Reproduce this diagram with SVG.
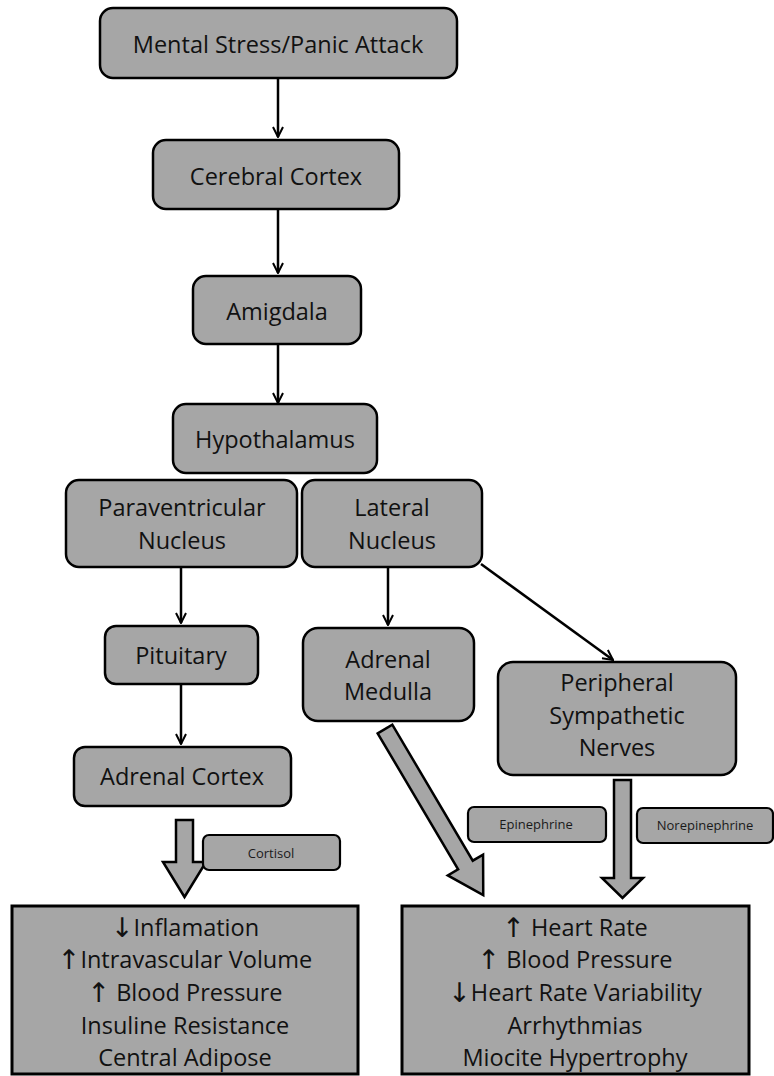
<svg xmlns="http://www.w3.org/2000/svg" width="774" height="1076" viewBox="0 0 774 1076">
  <style>
    .node { fill: #a6a6a6; stroke: #000; stroke-width: 2.5; }
    .tag { fill: #a6a6a6; stroke: #000; stroke-width: 2.2; }
    .out { fill: #a6a6a6; stroke: #000; stroke-width: 3; }
    .lbl { font-family: "Open Sans", "Liberation Sans", sans-serif; font-size: 23.5px; fill: #111; text-anchor: middle; dominant-baseline: central; }
    .small { font-family: "Open Sans", "Liberation Sans", sans-serif; font-size: 13px; fill: #1a1a1a; text-anchor: middle; dominant-baseline: central; }
    .arw { font-family: "DejaVu Sans", sans-serif; font-size: 27px; fill: #111; }
    .line { stroke: #000; stroke-width: 2.5; fill: none; }
    .block { fill: #a6a6a6; stroke: #000; stroke-width: 2.5; stroke-linejoin: miter; }
  </style>
  <defs>
    <marker id="head" viewBox="0 0 12 12" refX="11" refY="6" markerWidth="12" markerHeight="12" markerUnits="userSpaceOnUse" orient="auto">
      <path d="M1,1 L11,6 L1,11" fill="none" stroke="#000" stroke-width="2"/>
    </marker>
  </defs>

  <g id="connectors">
    <line class="line" x1="278" y1="78" x2="278" y2="137" marker-end="url(#head)"/>
    <line class="line" x1="278" y1="209" x2="278" y2="273" marker-end="url(#head)"/>
    <line class="line" x1="278" y1="344" x2="278" y2="403" marker-end="url(#head)"/>
    <line class="line" x1="181" y1="567" x2="181" y2="623" marker-end="url(#head)"/>
    <line class="line" x1="181" y1="684" x2="181" y2="744" marker-end="url(#head)"/>
    <line class="line" x1="388" y1="567" x2="388" y2="625" marker-end="url(#head)"/>
    <line class="line" x1="481" y1="564" x2="613" y2="660" marker-end="url(#head)"/>
    <!-- wide hormone arrows -->
    <polygon class="block" transform="translate(184.5,820)" points="-8.5,0 8.5,0 8.5,42 21.5,42 0,77 -21.5,42 -8.5,42"/>
    <polygon class="block" transform="translate(622.5,780)" points="-8.5,0 8.5,0 8.5,98 20.5,98 0,118 -20.5,98 -8.5,98"/>
    <polygon class="block" transform="translate(385,729) rotate(-30.6)" points="-8.5,0 8.5,0 8.5,158 20.5,158 0,193 -20.5,158 -8.5,158"/>
  </g>

  <g id="n-stress">
    <rect class="node" x="100" y="8" width="357" height="70" rx="13"/>
    <text class="lbl" x="278" y="44">Mental Stress/Panic Attack</text>
  </g>
  <g id="n-cortex">
    <rect class="node" x="153" y="140" width="246" height="69" rx="13"/>
    <text class="lbl" x="276" y="176">Cerebral Cortex</text>
  </g>
  <g id="n-amigdala">
    <rect class="node" x="193" y="276" width="168" height="68" rx="13"/>
    <text class="lbl" x="277" y="311">Amigdala</text>
  </g>
  <g id="n-hypothalamus">
    <rect class="node" x="173" y="404" width="204" height="69" rx="13"/>
    <text class="lbl" x="275" y="439">Hypothalamus</text>
  </g>
  <g id="n-paraventricular">
    <rect class="node" x="66" y="480" width="231" height="87" rx="13"/>
    <text class="lbl" x="182" y="507">Paraventricular</text>
    <text class="lbl" x="182" y="540">Nucleus</text>
  </g>
  <g id="n-lateral">
    <rect class="node" x="302" y="480" width="180" height="87" rx="13"/>
    <text class="lbl" x="392" y="507">Lateral</text>
    <text class="lbl" x="392" y="540">Nucleus</text>
  </g>
  <g id="n-pituitary">
    <rect class="node" x="105" y="626" width="153" height="58" rx="11"/>
    <text class="lbl" x="181" y="655">Pituitary</text>
  </g>
  <g id="n-adrenal-cortex">
    <rect class="node" x="74" y="747" width="217" height="59" rx="11"/>
    <text class="lbl" x="182" y="776">Adrenal Cortex</text>
  </g>
  <g id="n-adrenal-medulla">
    <rect class="node" x="303" y="628" width="171" height="93" rx="15"/>
    <text class="lbl" x="388" y="659">Adrenal</text>
    <text class="lbl" x="388" y="691">Medulla</text>
  </g>
  <g id="n-peripheral">
    <rect class="node" x="498" y="662" width="238" height="113" rx="15"/>
    <text class="lbl" x="617" y="682">Peripheral</text>
    <text class="lbl" x="617" y="715">Sympathetic</text>
    <text class="lbl" x="617" y="747">Nerves</text>
  </g>
  <g id="t-cortisol">
    <rect class="tag" x="203" y="835" width="137" height="35" rx="6"/>
    <text class="small" x="271" y="853">Cortisol</text>
  </g>
  <g id="t-epinephrine">
    <rect class="tag" x="468" y="807" width="138" height="35" rx="6"/>
    <text class="small" x="536" y="824">Epinephrine</text>
  </g>
  <g id="t-norepinephrine">
    <rect class="tag" x="637" y="808" width="136" height="35" rx="6"/>
    <text class="small" x="705" y="825">Norepinephrine</text>
  </g>
  <g id="n-cortisol-effects">
    <rect class="out" x="12" y="906" width="346" height="168"/>
    <text class="lbl" x="185" y="927"><tspan class="arw">↓</tspan>Inflamation</text>
    <text class="lbl" x="185" y="959"><tspan class="arw">↑</tspan>Intravascular Volume</text>
    <text class="lbl" x="185" y="992"><tspan class="arw">↑</tspan> Blood Pressure</text>
    <text class="lbl" x="185" y="1025">Insuline Resistance</text>
    <text class="lbl" x="185" y="1057">Central Adipose</text>
  </g>
  <g id="n-sympathetic-effects">
    <rect class="out" x="402" y="906" width="347" height="168"/>
    <text class="lbl" x="575" y="927"><tspan class="arw">↑</tspan> Heart Rate</text>
    <text class="lbl" x="575" y="959"><tspan class="arw">↑</tspan> Blood Pressure</text>
    <text class="lbl" x="575" y="992"><tspan class="arw">↓</tspan>Heart Rate Variability</text>
    <text class="lbl" x="575" y="1025">Arrhythmias</text>
    <text class="lbl" x="575" y="1057">Miocite Hypertrophy</text>
  </g>
</svg>
